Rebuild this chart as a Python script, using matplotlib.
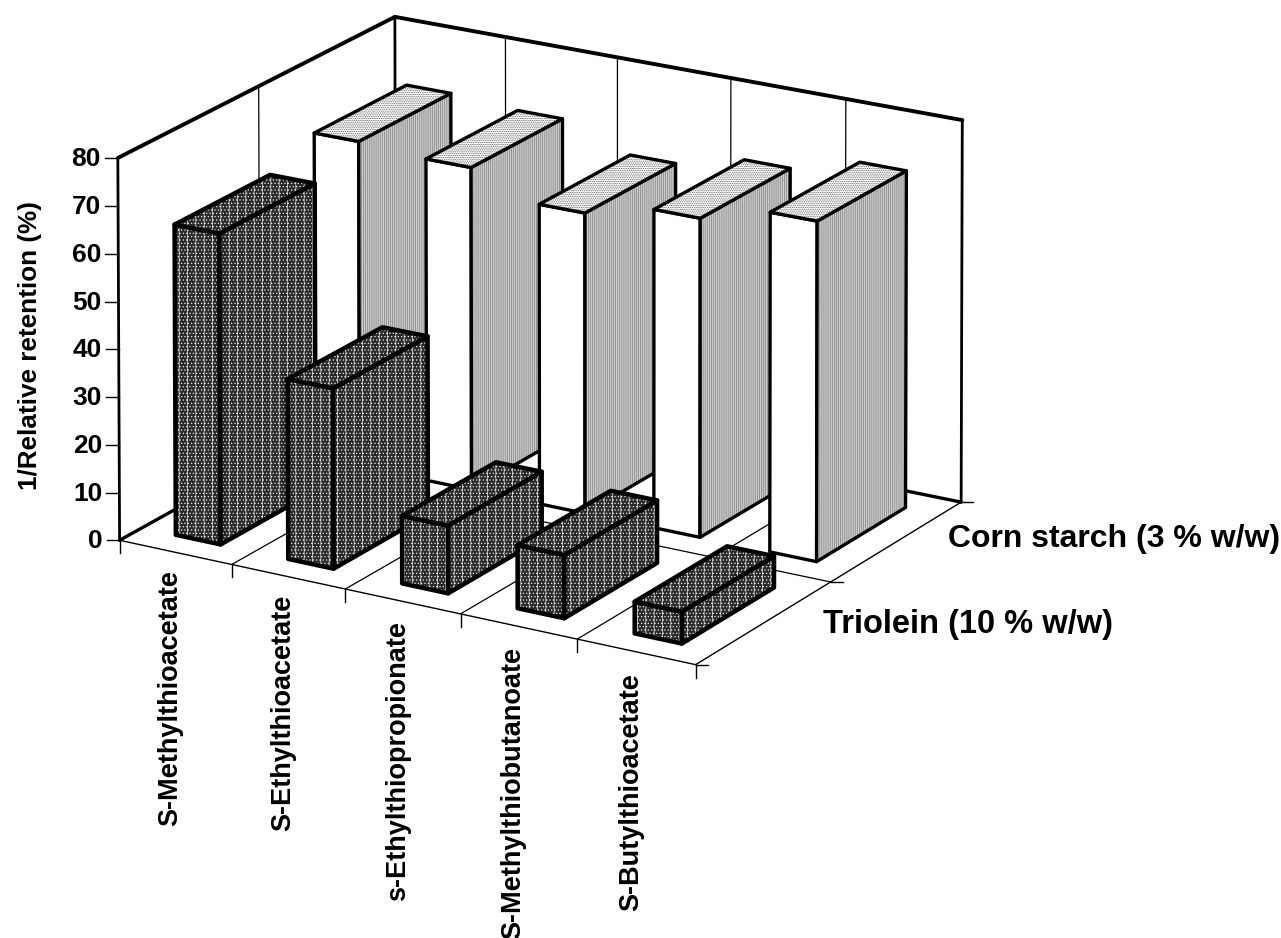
import numpy as np
import matplotlib
matplotlib.use("Agg")
import matplotlib.pyplot as plt
from matplotlib.patches import Polygon

plt.rcParams['font.family'] = ['Liberation Sans', 'DejaVu Sans']
plt.rcParams['hatch.linewidth'] = 0.5

categories = ["S-Methylthioacetate", "S-Ethylthioacetate", "s-Ethylthiopropionate",
              "S-Methylthiobutanoate", "S-Butylthioacetate"]
series_names = ["Triolein (10 % w/w)", "Corn starch (3 % w/w)"]
triolein = [65, 37.5, 14, 13, 6.5]
corn_starch = [69, 68, 63, 66.5, 70.5]
y_ticks = [0, 10, 20, 30, 40, 50, 60, 70, 80]
y_label = "1/Relative retention (%)"

# camera: fitted from the box corners seen in the picture (u, depth, height) -> pixel
world = np.array([[0,0,0],[5,0,0],[5,2,0],[0,2,0],[0,0,80],[0,2,80],[5,2,80]], float)
pixel = np.array([[120,537],[695,668],[962,497],[395,392],[118,158],[395,15],[962,122]], float)
A, b = [], []
for (X,Y,Z),(px,py) in zip(world,pixel):
    A.append([X,Y,Z,1,0,0,0,0,-px*X,-px*Y,-px*Z]); b.append(px)
    A.append([0,0,0,0,X,Y,Z,1,-py*X,-py*Y,-py*Z]); b.append(py)
p = np.linalg.lstsq(np.array(A), np.array(b), rcond=None)[0]
P = np.append(p, 1).reshape(3, 4)

def proj(u, v, h):
    q = P @ np.array([u, v, h, 1.0])
    return q[0]/q[2], q[1]/q[2]

fig = plt.figure(figsize=(12.81, 9.38), dpi=100)
ax = fig.add_axes([0, 0, 1, 1])
ax.set_xlim(0, 1281); ax.set_ylim(938, 0); ax.axis('off')

def line(a, b, lw):
    p0, p1 = proj(*a), proj(*b)
    ax.plot([p0[0], p1[0]], [p0[1], p1[1]], color='black', lw=lw, solid_capstyle='round', zorder=1)

# floor grid
for u in range(1, 5):
    line((u,0,0), (u,2,0), 0.9)
line((0,1,0), (5,1,0), 0.9)
line((0,0,0), (5,0,0), 1.0)
line((5,0,0), (5,2,0), 1.0)
# walls
line((0,2,0), (5,2,0), 2.4)
line((0,0,0), (0,2,0), 2.4)
line((0,0,0), (0,0,80), 2.0)
line((0,0,80), (0,2,80), 2.8)
line((0,2,80), (5,2,80), 2.8)
line((5,2,0), (5,2,80), 2.0)
line((0,2,0), (0,2,80), 2.0)
for u in range(1, 5):
    line((u,2,0), (u,2,80), 0.9)
line((0,1,0), (0,1,80), 0.9)

# ticks and tick labels
for t in y_ticks:
    x, y = proj(0, 0, t)
    ax.plot([x-13, x], [y, y], color='black', lw=1.0, zorder=1)
    ax.text(x-17, y+1, str(t), ha='right', va='center', fontsize=19, fontweight='bold')
for u in range(6):
    x, y = proj(u, 0, 0)
    ax.plot([x, x], [y, y+13], color='black', lw=1.0, zorder=1)
for v in range(3):
    x, y = proj(5, v, 0)
    ax.plot([x, x+12], [y, y], color='black', lw=1.0, zorder=1)

ax.text(30, 346, y_label, rotation=90, ha='center', va='center', fontsize=18.8, fontweight='bold')
for i, c in enumerate(categories):
    x, y = proj(i + 0.5, 0, 0)
    ax.text(x + 2, y + 17.5 + 0.95*i, c, rotation=90, rotation_mode='anchor',
            ha='right', va='baseline', fontsize=19.5, fontweight='bold')
ax.text(823, 625, series_names[0], ha='left', va='center', fontsize=23.5, fontweight='bold')
ax.text(948, 539, series_names[1], ha='left', va='center', fontsize=23, fontweight='bold')

def face(pts, fc, hatch, hc, lwid, z):
    xy = [proj(*q) for q in pts]
    if hatch:
        ax.add_patch(Polygon(xy, closed=True, facecolor=fc, edgecolor=hc, hatch=hatch, lw=0, zorder=z))
        ax.add_patch(Polygon(xy, closed=True, fill=False, edgecolor='black', lw=lwid, joinstyle='round', zorder=z+0.1))
    else:
        ax.add_patch(Polygon(xy, closed=True, facecolor=fc, edgecolor='black', lw=lwid, joinstyle='round', zorder=z))

def bar(i, row, val, styles, z):
    u0, u1 = i + 0.30, i + 0.70
    v0, v1 = row + 0.16, row + 0.84
    front, side, top = styles
    face([(u0,v0,0),(u1,v0,0),(u1,v0,val),(u0,v0,val)], *front, z)
    face([(u1,v0,0),(u1,v1,0),(u1,v1,val),(u1,v0,val)], *side, z+0.2)
    face([(u0,v0,val),(u1,v0,val),(u1,v1,val),(u0,v1,val)], *top, z+0.4)

dark = ('#2a2a2a', '||.....', '#e6e6e6', 3.2)
light_side = ('#cfcfcf', '||||||||', '#7a7a7a', 2.4)
light_top = ('#ffffff', '.........', '#555555', 2.4)
white = ('#ffffff', None, None, 2.4)

for i, val in enumerate(corn_starch):
    bar(i, 1, val, (white, light_side, light_top), 2 + i)
for i, val in enumerate(triolein):
    bar(i, 0, val, (dark, dark, dark), 10 + i)

fig.savefig('out.png', dpi=100)
